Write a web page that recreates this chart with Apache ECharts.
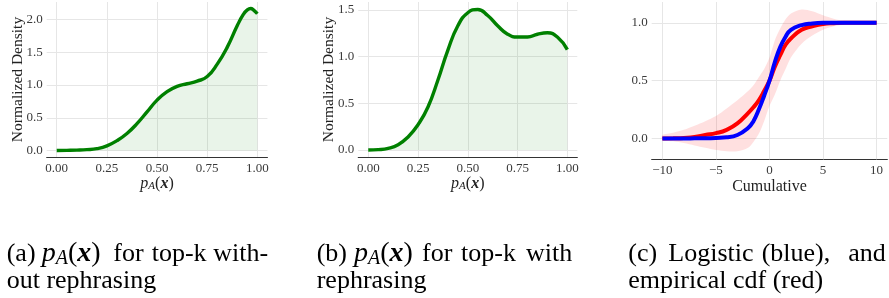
<!DOCTYPE html>
<html>
<head>
<meta charset="utf-8">
<script src="https://cdn.jsdelivr.net/npm/echarts@6.0.0/dist/echarts.min.js"></script>
<style>
  html, body { margin: 0; padding: 0; background: #fff; }
  #chart { width: 889px; height: 298px; }
</style>
</head>
<body>
<div id="chart"></div>
<script>
// (a) p_A(x) for top-k without rephrasing
const noRephraseX = [0, 0.05, 0.1, 0.15, 0.2, 0.25, 0.3, 0.35, 0.4, 0.45, 0.5, 0.55, 0.6, 0.65, 0.7, 0.75, 0.8, 0.85, 0.9, 0.93, 0.95, 0.967, 0.98, 1.0]
const noRephraseDensity = [0, 0.002, 0.005, 0.012, 0.028, 0.07, 0.15, 0.26, 0.41, 0.59, 0.77, 0.9, 0.98, 1.02, 1.06, 1.13, 1.32, 1.58, 1.91, 2.08, 2.15, 2.17, 2.15, 2.09]

// (b) p_A(x) for top-k with rephrasing
const rephraseX = [0, 0.05, 0.1, 0.15, 0.2, 0.25, 0.3, 0.35, 0.4, 0.45, 0.5, 0.55, 0.6, 0.65, 0.7, 0.75, 0.8, 0.85, 0.9, 0.95, 1.0]
const rephraseDensity = [0, 0.004, 0.018, 0.057, 0.14, 0.27, 0.46, 0.75, 1.07, 1.33, 1.47, 1.505, 1.44, 1.33, 1.24, 1.21, 1.21, 1.24, 1.255, 1.21, 1.075]

// (c) logistic (blue) vs empirical cdf (red) with band
const cdfX = [-10, -9, -8, -7, -6, -5, -4, -3, -2, -1.5, -1, -0.5, 0, 0.5, 1, 1.5, 2, 3, 4, 5, 6, 7, 8, 9, 10]
const logisticCdf = [0, 0, 0, 0.001, 0.002, 0.005, 0.01, 0.03, 0.09, 0.15, 0.25, 0.37, 0.5, 0.66, 0.79, 0.88, 0.94, 0.98, 0.995, 1, 1, 1, 1, 1, 1]
const empiricalCdf = [0, 0.002, 0.005, 0.012, 0.03, 0.046, 0.075, 0.13, 0.22, 0.27, 0.33, 0.41, 0.5, 0.62, 0.72, 0.81, 0.865, 0.94, 0.97, 0.99, 0.997, 1, 1, 1, 1]
const empiricalUpper = [0.03, 0.05, 0.075, 0.11, 0.15, 0.195, 0.26, 0.33, 0.41, 0.46, 0.53, 0.6, 0.7, 0.85, 0.95, 1.03, 1.08, 1.115, 1.1, 1.065, 1.035, 1.015, 1.005, 1, 1]
const empiricalLower = [-0.01, -0.025, -0.04, -0.06, -0.08, -0.1, -0.11, -0.11, -0.08, -0.03, 0.04, 0.15, 0.28, 0.38, 0.5, 0.6, 0.7, 0.82, 0.89, 0.94, 0.97, 0.985, 0.995, 1, 1]

// tick labels
const densityTicksX = [0, 0.25, 0.5, 0.75, 1]
const densityTicksYA = [0, 0.5, 1, 1.5, 2]
const densityTicksYB = [0, 0.5, 1, 1.5]
const cdfTicksX = [-10, -5, 0, 5, 10]
const cdfTicksY = [0, 0.5, 1]

const serif = 'Liberation Serif'
const tickColor = '#3a3a3a'
const gridColor = '#e6e6e6'

const mathRich = (size) => ({
  i: { fontFamily: serif, fontSize: size, fontStyle: 'italic', color: '#222' },
  s: { fontFamily: serif, fontSize: Math.round(size * 0.7), fontStyle: 'italic', color: '#222', verticalAlign: 'bottom', lineHeight: Math.round(size * 0.55) },
  n: { fontFamily: serif, fontSize: size, color: '#222' },
  b: { fontFamily: serif, fontSize: size, fontStyle: 'italic', fontWeight: 'bold', color: '#222' }
})
const pAx = '{i|p}{s|A}{n|(}{b|x}{n|)}'

function xAxisOf(gridIndex, min, max, ticks, digits, name, rich) {
  return {
    type: 'value',
    gridIndex,
    min,
    max,
    name,
    nameLocation: 'middle',
    nameGap: 19,
    nameMoveOverlap: false,
    nameTextStyle: { fontFamily: serif, fontSize: 16, color: '#222', rich },
    axisLine: { show: true, onZero: false, lineStyle: { color: '#333', width: 1.2 } },
    axisTick: { show: false },
    axisLabel: {
      customValues: ticks,
      fontFamily: serif,
      fontSize: 13,
      color: tickColor,
      margin: 5,
      formatter: (v) => (v < 0 ? '\u2212' + Math.abs(v).toFixed(digits) : v.toFixed(digits))
    },
    splitLine: { show: false }
  }
}

function yAxisOf(gridIndex, min, max, ticks, name) {
  return {
    type: 'value',
    gridIndex,
    min,
    max,
    name,
    nameLocation: 'middle',
    nameGap: 21,
    nameMoveOverlap: false,
    nameTextStyle: { fontFamily: serif, fontSize: 15.5, color: '#222' },
    axisLine: { show: false },
    axisTick: { show: true, customValues: ticks, length: 2, lineStyle: { color: '#666' } },
    axisLabel: {
      customValues: ticks,
      fontFamily: serif,
      fontSize: 13,
      color: tickColor,
      margin: 4,
      formatter: (v) => v.toFixed(1)
    },
    splitLine: { show: false }
  }
}

// light grid lines drawn under the curves
function gridLines(idx, xs, ys) {
  return {
    type: 'line',
    xAxisIndex: idx,
    yAxisIndex: idx,
    data: [],
    z: 0,
    silent: true,
    markLine: {
      z: 1,
      silent: true,
      animation: false,
      symbol: ['none', 'none'],
      label: { show: false },
      lineStyle: { color: gridColor, width: 1, type: 'solid' },
      data: xs.map((v) => ({ xAxis: v })).concat(ys.map((v) => ({ yAxis: v })))
    }
  }
}

function densitySeries(idx, xs, ys) {
  return {
    type: 'line',
    xAxisIndex: idx,
    yAxisIndex: idx,
    data: xs.map((x, i) => [x, ys[i]]),
    smooth: 0.5,
    showSymbol: false,
    z: 3,
    lineStyle: { color: '#008000', width: 3.4 },
    areaStyle: { color: 'rgba(0,128,0,0.12)' }
  }
}

const chart = echarts.init(document.getElementById('chart'))

const captionStyle = { fontFamily: serif, fontSize: 26, fill: '#000', lineHeight: 30 }
const captionRich = {
  i: { fontFamily: serif, fontSize: 28, fontStyle: 'italic', fill: '#000' },
  s: { fontFamily: serif, fontSize: 20, fontStyle: 'italic', fill: '#000', verticalAlign: 'bottom', lineHeight: 9 },
  n: { fontFamily: serif, fontSize: 28, fill: '#000' },
  b: { fontFamily: serif, fontSize: 28, fontStyle: 'italic', fontWeight: 'bold', fill: '#000' }
}
const caption = (x, y, text) => ({
  type: 'text',
  x,
  y,
  style: Object.assign({ text, rich: captionRich }, captionStyle)
})

chart.setOption({
  animation: false,
  backgroundColor: '#fff',
  grid: [
    { left: 46.7, top: 2, width: 220.7, height: 155 },
    { left: 358.3, top: 2, width: 219, height: 155 },
    { left: 651.7, top: 2, width: 235.6, height: 157.3 }
  ],
  xAxis: [
    xAxisOf(0, -0.05, 1.05, densityTicksX, 2, pAx, mathRich(16)),
    xAxisOf(1, -0.05, 1.05, densityTicksX, 2, pAx, mathRich(16)),
    xAxisOf(2, -11, 11, cdfTicksX, 0, 'Cumulative')
  ],
  yAxis: [
    yAxisOf(0, -0.1, 2.27, densityTicksYA, 'Normalized Density'),
    yAxisOf(1, -0.075, 1.585, densityTicksYB, 'Normalized Density'),
    yAxisOf(2, -0.18, 1.18, cdfTicksY, '')
  ],
  series: [
    gridLines(0, densityTicksX, densityTicksYA),
    gridLines(1, densityTicksX, densityTicksYB),
    gridLines(2, cdfTicksX, cdfTicksY),
    densitySeries(0, noRephraseX, noRephraseDensity),
    densitySeries(1, rephraseX, rephraseDensity),
    {
      type: 'custom',
      xAxisIndex: 2,
      yAxisIndex: 2,
      data: [[0, 0]],
      silent: true,
      z: 2,
      renderItem(params, api) {
        const pts = cdfX.map((x, i) => api.coord([x, empiricalUpper[i]]))
        for (let i = cdfX.length - 1; i >= 0; i--) {
          pts.push(api.coord([cdfX[i], empiricalLower[i]]))
        }
        return {
          type: 'polygon',
          shape: { points: pts, smooth: 0.3 },
          style: { fill: 'rgba(255,0,0,0.12)' }
        }
      }
    },
    {
      type: 'line',
      xAxisIndex: 2,
      yAxisIndex: 2,
      data: cdfX.map((x, i) => [x, empiricalCdf[i]]),
      smooth: 0.5,
      showSymbol: false,
      z: 3,
      lineStyle: { color: '#ff0000', width: 4 }
    },
    {
      type: 'line',
      xAxisIndex: 2,
      yAxisIndex: 2,
      data: cdfX.map((x, i) => [x, logisticCdf[i]]),
      smooth: 0.5,
      showSymbol: false,
      z: 4,
      lineStyle: { color: '#0000ff', width: 4 }
    }
  ],
  graphic: [
    caption(6.7, 239, '(a)'),
    caption(41.7, 239, pAx),
    caption(113.3, 239, 'for'),
    caption(151.7, 239, 'top-k'),
    caption(213.3, 239, 'with-'),
    caption(6.7, 266, 'out rephrasing'),
    caption(316.7, 239, '(b)'),
    caption(354, 239, pAx),
    caption(422, 239, 'for'),
    caption(461, 239, 'top-k'),
    caption(526, 239, 'with'),
    caption(316.7, 266, 'rephrasing'),
    caption(628.3, 239, '(c)'),
    caption(668.3, 239, 'Logistic'),
    caption(761.7, 239, '(blue),'),
    caption(848.3, 239, 'and'),
    caption(628.3, 266, 'empirical cdf (red)')
  ]
})
</script>
</body>
</html>
